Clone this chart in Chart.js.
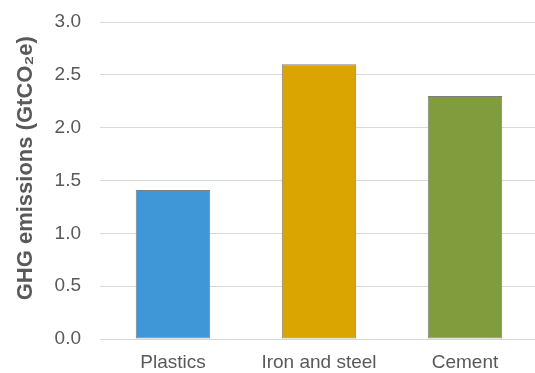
<!DOCTYPE html>
<html>
<head>
<meta charset="utf-8">
<script src="https://cdn.jsdelivr.net/npm/chart.js@4/dist/chart.umd.min.js"></script>
<style>
  html, body { margin: 0; padding: 0; background: #fff; overflow: hidden; }
  #wrap { width: 538px; height: 373px; }
</style>
</head>
<body>
<div id="wrap"><canvas id="c" width="538" height="373"></canvas></div>
<script>
const categories = ["Plastics", "Iron and steel", "Cement"];
const emissions = [1.41, 2.6, 2.3];
const barColors = ["#3F97D7", "#DAA500", "#819C3D"];
const yTicks = [0, 0.5, 1.0, 1.5, 2.0, 2.5, 3.0];
const yTitle = "    GHG emissions (GtCO\u2082e)";

new Chart(document.getElementById("c"), {
  type: "bar",
  data: {
    labels: categories,
    datasets: [{
      data: emissions,
      backgroundColor: barColors,
      borderColor: "#7F7F7F",
      borderWidth: 1,
      borderSkipped: false,
      categoryPercentage: 1,
      barPercentage: 0.51
    }]
  },
  options: {
    responsive: false,
    animation: false,
    layout: { padding: { top: 22, left: 0, right: 0, bottom: 0 } },
    plugins: { legend: { display: false }, tooltip: { enabled: false } },
    scales: {
      x: {
        grid: { display: false },
        border: { display: false },
        ticks: { color: "#595959", font: { family: "Liberation Sans", size: 19 }, padding: 4 },
        afterFit: (s) => { s.height = 34; s.paddingLeft = 0; s.paddingRight = 0; }
      },
      y: {
        min: 0, max: 3,
        afterBuildTicks: (s) => { s.ticks = yTicks.map(v => ({ value: v })); },
        grid: { color: "#D9D9D9", lineWidth: 1, drawTicks: false },
        border: { display: false },
        ticks: {
          color: "#595959",
          font: { family: "Liberation Sans", size: 19 },
          padding: 19,
          callback: (v) => Number(v).toFixed(1)
        },
        title: {
          display: true,
          text: yTitle,
          color: "#595959",
          font: { family: "Liberation Sans", size: 22, weight: "bold" },
          padding: { top: 12.5, bottom: 0 }
        },
        afterFit: (s) => { s.width = 100; s.paddingTop = 0; s.paddingBottom = 0; }
      }
    }
  }
});
</script>
</body>
</html>
